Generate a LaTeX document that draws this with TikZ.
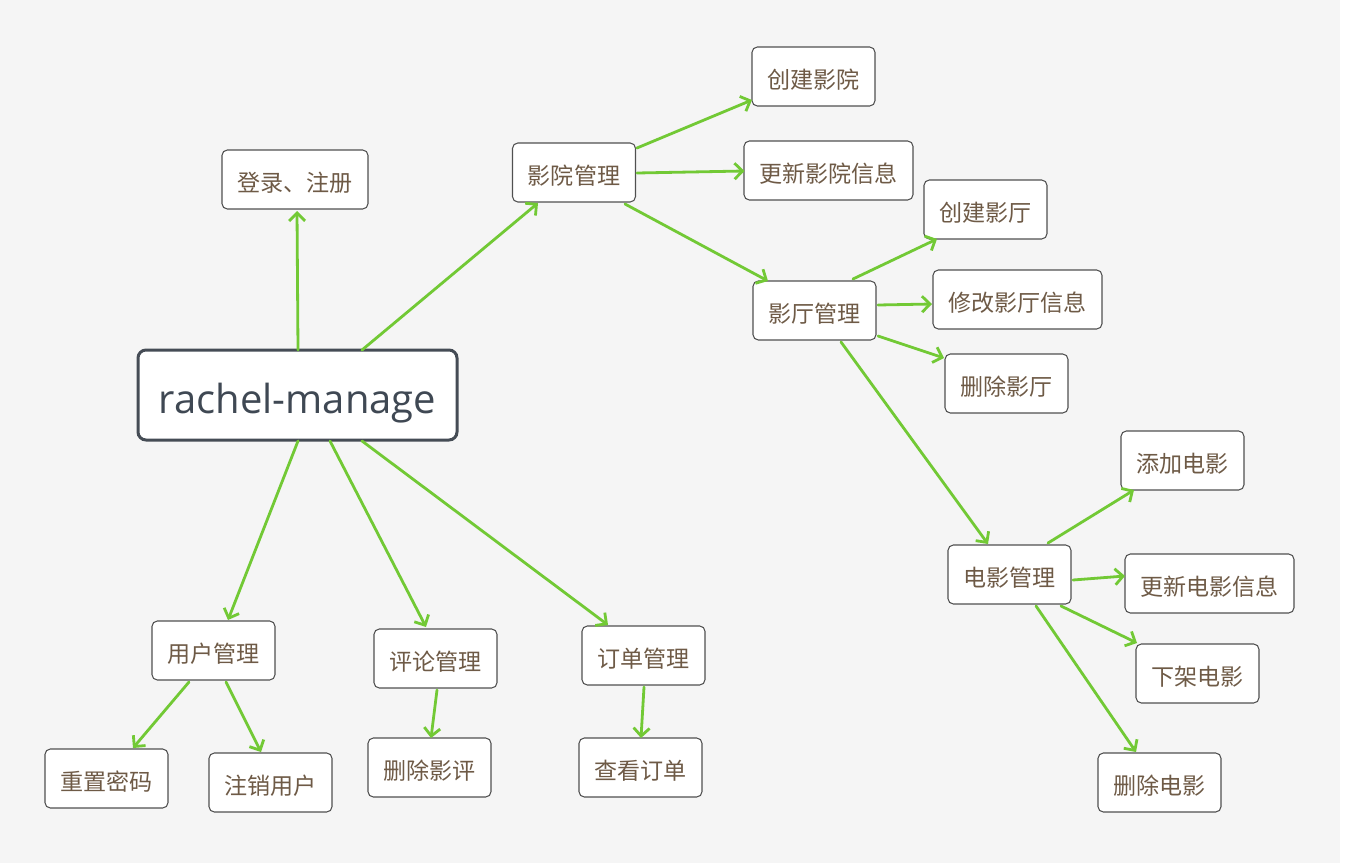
\documentclass[tikz,border=0pt]{standalone}
\usepackage{fontspec}
\setmainfont{Open Sans}
\newfontfamily\cjk{Noto Sans CJK SC}
\usetikzlibrary{arrows.meta,calc}
\definecolor{bggrey}{HTML}{F5F5F5}
\definecolor{edgegreen}{HTML}{72C935}
\definecolor{rootborder}{HTML}{454C55}
\definecolor{roottext}{HTML}{3F4853}
\definecolor{boxborder}{HTML}{505050}
\definecolor{boxtext}{HTML}{6E5A46}
\tikzset{
  box/.style={draw=boxborder, line width=0.8pt, fill=white, rounded corners=4pt,
    minimum width=92.25pt, minimum height=44.25pt, inner sep=0pt,
    text height=18.4pt, text depth=0pt,
    text=boxtext, font=\cjk\fontsize{17.3pt}{19pt}\selectfont},
  widebox/.style={box, minimum width=126.75pt},
  rootbox/.style={draw=rootborder, line width=2.25pt, fill=white, rounded corners=6pt,
    minimum width=239.25pt, minimum height=67.5pt, inner sep=0pt,
    text height=27pt, text depth=0pt,
    text=roottext, font=\fontsize{30pt}{34pt}\selectfont},
  edge/.style={draw=edgegreen, line width=2.1pt, line cap=round,
    -{Straight Barb[length=6pt,width=12pt]}}
}
\begin{document}
\begin{tikzpicture}[x=0.75pt,y=-0.75pt]
\useasboundingbox (0,0) rectangle (1348,863);
\fill[white] (0,0) rectangle (1348,863);
\fill[bggrey] (0,0) rectangle (1340,863);

\node[rootbox] (root) at (297.5,395) {rachel-manage};
\node[box, minimum width=109.5pt] (login) at (295,179.5) {登录、注册};
\node[box] (yyg) at (574,172.5) {影院管理};
\node[box] (cjyy) at (813.5,76.5) {创建影院};
\node[widebox] (gxyy) at (828.5,170.5) {更新影院信息};
\node[box] (ytgl) at (814.5,310.5) {影厅管理};
\node[box] (cjyt) at (985.5,209.5) {创建影厅};
\node[widebox] (xgyt) at (1017.5,299.5) {修改影厅信息};
\node[box] (scyt) at (1006.5,383.5) {删除影厅};
\node[box] (dygl) at (1009.5,574.5) {电影管理};
\node[box] (tjdy) at (1182.5,460.5) {添加电影};
\node[widebox] (gxdy) at (1209.5,583.5) {更新电影信息};
\node[box] (xjdy) at (1197.5,673.5) {下架电影};
\node[box] (scdy) at (1159.5,782.5) {删除电影};
\node[box] (yhgl) at (213.5,650.5) {用户管理};
\node[box] (czmm) at (106.5,778.5) {重置密码};
\node[box] (zxyh) at (270.5,782.5) {注销用户};
\node[box] (plgl) at (435.5,658.5) {评论管理};
\node[box] (scyp) at (429.5,767.5) {删除影评};
\node[box] (ddgl) at (643.5,655.5) {订单管理};
\node[box] (ckdd) at (640.5,767.5) {查看订单};

\draw[edge] ($(root)+(0.5,-45)$) -- ($(login)+(2,31.5)$);
\draw[edge] ($(root)+(64.5,-45)$) -- ($(yyg)+(-36,30.5)$);
\draw[edge] ($(yyg)+(63,-24.5)$) -- ($(cjyy)+(-61.5,23.5)$);
\draw[edge] ($(yyg)+(63,0.5)$) -- ($(gxyy)+(-84,0.5)$);
\draw[edge] ($(yyg)+(51,31.5)$) -- ($(ytgl)+(-46.5,-29.5)$);
\draw[edge] ($(ytgl)+(38.5,-31.5)$) -- ($(cjyt)+(-48.5,29.5)$);
\draw[edge] ($(ytgl)+(63.5,-5.5)$) -- ($(xgyt)+(-85.5,4.5)$);
\draw[edge] ($(ytgl)+(63.5,25.5)$) -- ($(scyt)+(-62.5,-25.5)$);
\draw[edge] ($(ytgl)+(26.5,31.5)$) -- ($(dygl)+(-21.5,-30.5)$);
\draw[edge] ($(dygl)+(38.5,-31.5)$) -- ($(tjdy)+(-48.5,29.5)$);
\draw[edge] ($(dygl)+(63.5,5.5)$) -- ($(gxdy)+(-84.5,-7.5)$);
\draw[edge] ($(dygl)+(51.5,31.5)$) -- ($(xjdy)+(-60.5,-30.5)$);
\draw[edge] ($(dygl)+(26.5,31.5)$) -- ($(scdy)+(-23.5,-30.5)$);
\draw[edge] ($(root)+(0.5,46)$) -- ($(yhgl)+(14.5,-30.5)$);
\draw[edge] ($(root)+(32.5,46)$) -- ($(plgl)+(-9.5,-31.5)$);
\draw[edge] ($(root)+(64.5,46)$) -- ($(ddgl)+(-35.5,-30.5)$);
\draw[edge] ($(yhgl)+(-24.5,31.5)$) -- ($(czmm)+(26.5,-30.5)$);
\draw[edge] ($(yhgl)+(12.5,31.5)$) -- ($(zxyh)+(-9.5,-30.5)$);
\draw[edge] ($(plgl)+(1.5,31.5)$) -- ($(scyp)+(1.5,-29.5)$);
\draw[edge] ($(ddgl)+(0.5,31.5)$) -- ($(ckdd)+(0.5,-29.5)$);
\end{tikzpicture}
\end{document}
